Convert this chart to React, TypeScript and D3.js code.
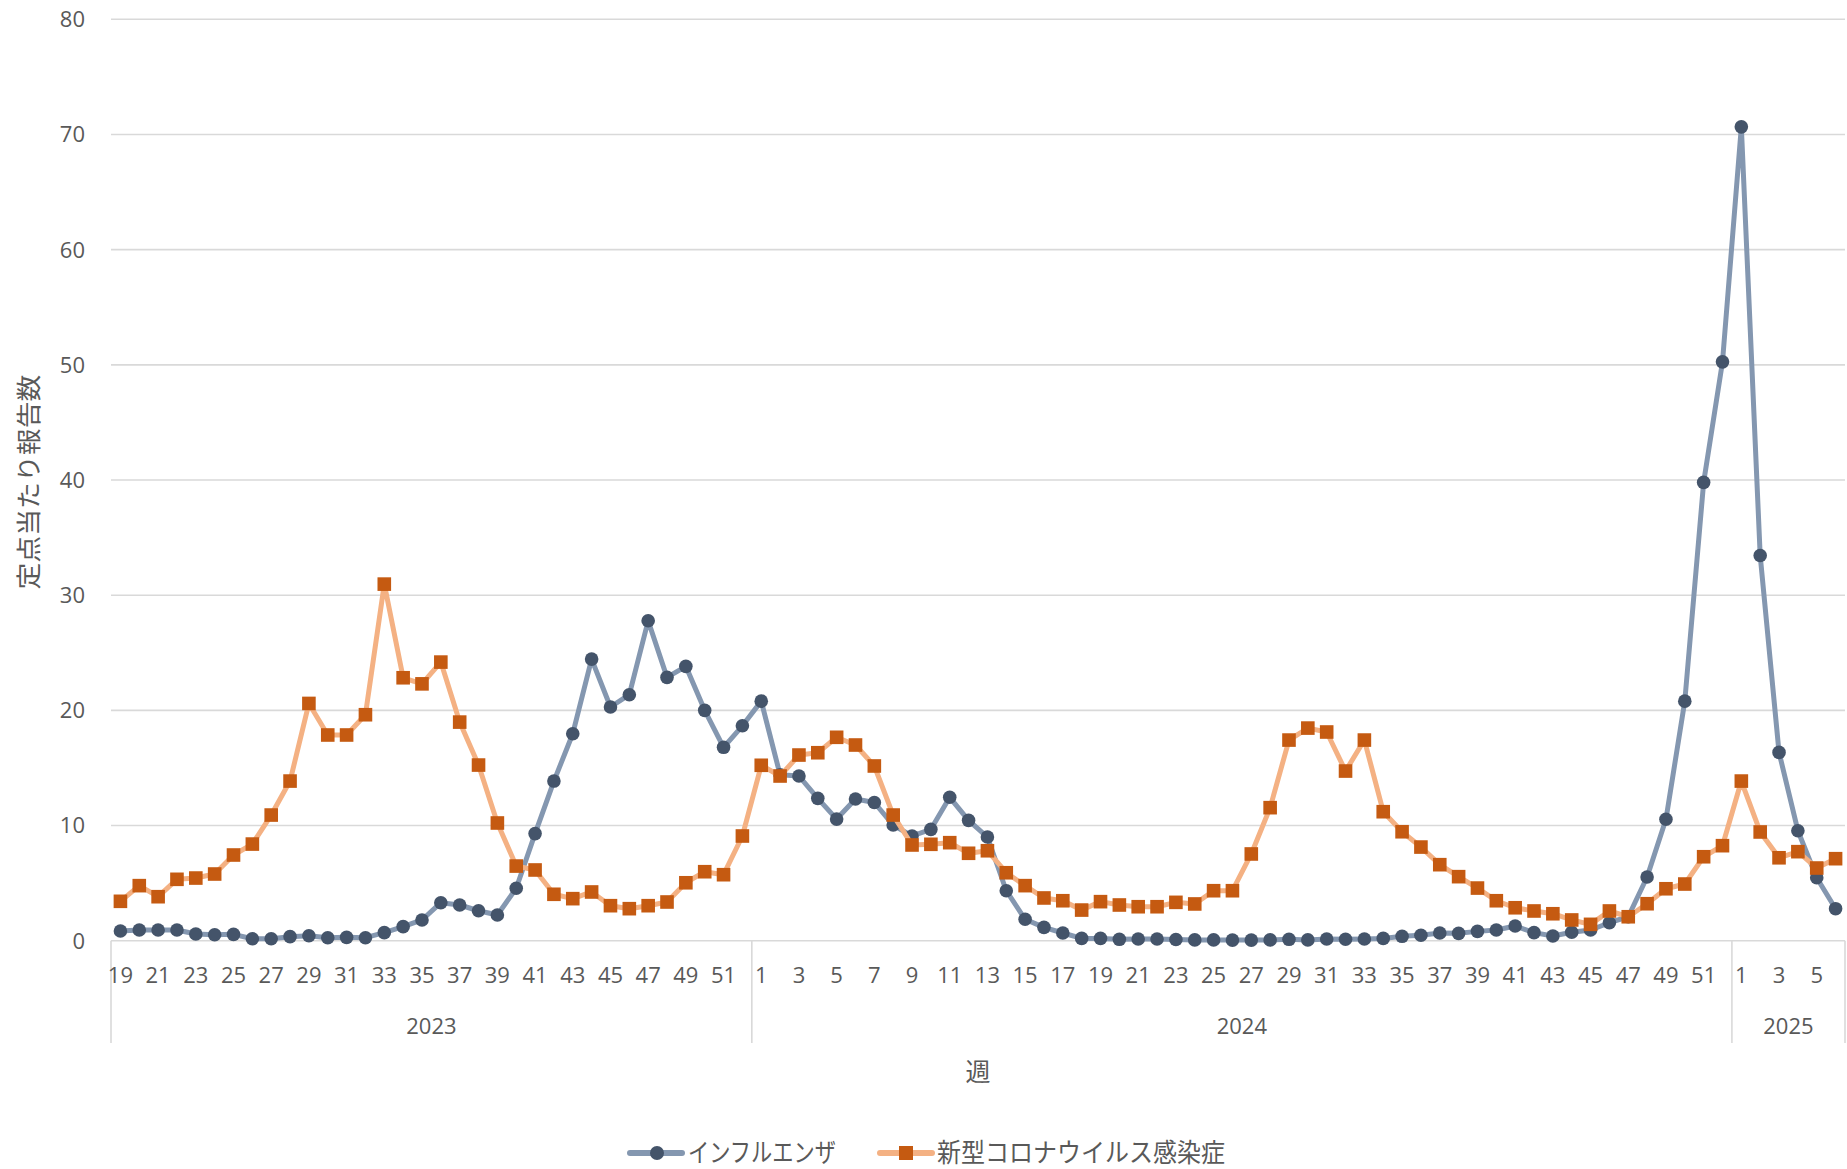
import React from 'react';
import * as d3 from 'd3';

const years = ['2023', '2024', '2025'];
const weeks2023 = d3.range(19, 53);
const weeks2024 = d3.range(1, 53);
const weeks2025 = d3.range(1, 7);

const flu2023 = [0.84, 0.93, 0.93, 0.93, 0.58, 0.52, 0.55, 0.17, 0.17, 0.35, 0.43, 0.26, 0.29, 0.26, 0.7, 1.22, 1.8, 3.3, 3.1, 2.6, 2.23, 4.55, 9.3, 13.86, 17.97, 24.45, 20.29, 21.36, 27.78, 22.86, 23.82, 20.0, 16.79, 18.66];
const flu2024 = [20.8, 14.4, 14.3, 12.36, 10.56, 12.3, 12.0, 10.04, 9.09, 9.67, 12.45, 10.45, 9.0, 4.34, 1.86, 1.16, 0.67, 0.2, 0.2, 0.12, 0.15, 0.15, 0.1, 0.07, 0.07, 0.05, 0.05, 0.07, 0.12, 0.07, 0.15, 0.13, 0.15, 0.2, 0.38, 0.47, 0.67, 0.64, 0.81, 0.93, 1.28, 0.7, 0.41, 0.73, 0.93, 1.56, 2.08, 5.53, 10.54, 20.8, 39.79, 50.26];
const flu2025 = [70.66, 33.45, 16.35, 9.55, 5.47, 2.78];

const covid2023 = [3.42, 4.78, 3.82, 5.33, 5.44, 5.79, 7.44, 8.39, 10.91, 13.86, 20.6, 17.86, 17.86, 19.62, 30.96, 22.83, 22.3, 24.19, 18.98, 15.25, 10.22, 6.48, 6.14, 4.03, 3.65, 4.23, 3.04, 2.78, 3.04, 3.36, 5.03, 5.99, 5.73, 9.09];
const covid2024 = [15.23, 14.3, 16.12, 16.32, 17.66, 16.99, 15.17, 10.91, 8.31, 8.37, 8.51, 7.59, 7.81, 5.9, 4.78, 3.71, 3.47, 2.66, 3.39, 3.1, 2.95, 2.95, 3.33, 3.19, 4.34, 4.34, 7.53, 11.55, 17.42, 18.46, 18.12, 14.73, 17.42, 11.2, 9.46, 8.13, 6.6, 5.56, 4.57, 3.47, 2.86, 2.58, 2.34, 1.8, 1.42, 2.58, 2.08, 3.21, 4.51, 4.92, 7.29, 8.25];
const covid2025 = [13.86, 9.44, 7.2, 7.73, 6.31, 7.12];

const yTicks = [0, 10, 20, 30, 40, 50, 60, 70, 80];
const seriesNames = ['インフルエンザ', '新型コロナウイルス感染症'];

const W = 1847;
const H = 1169;
const left = 111;
const right = 1845;
const top = 19.3;
const bottom = 940.7;

const textColor = '#595959';
const gridColor = '#D9D9D9';
const numFont = '"Segoe UI", "Open Sans", "Noto Sans", sans-serif';
const jpFont = '"Noto Sans CJK JP", sans-serif';

const App = () => {
    const weekGroups = [weeks2023, weeks2024, weeks2025];
    const cats = [];
    weekGroups.forEach((ws, gi) => ws.forEach(w => cats.push({ key: `${years[gi]}-${w}`, year: years[gi], week: w })));

    const flu = [...flu2023, ...flu2024, ...flu2025];
    const covid = [...covid2023, ...covid2024, ...covid2025];

    const x = d3.scaleBand().domain(cats.map(c => c.key)).range([left, right]).paddingInner(0).paddingOuter(0);
    const y = d3.scaleLinear().domain([0, 80]).range([bottom, top]);
    const cx = i => x(cats[i].key) + x.bandwidth() / 2;

    const line = d3.line().x((d, i) => cx(i)).y(d => y(d));

    // year boundaries on the category axis
    const bounds = [];
    let start = 0;
    weekGroups.forEach((ws, gi) => {
        const s = x(cats[start].key);
        const e = x(cats[start + ws.length - 1].key) + x.bandwidth();
        bounds.push({ year: years[gi], s, e });
        start += ws.length;
    });

    const axisBottom = 1043;
    const ly = 1153;

    return (
        <svg width={W} height={H} style={{ position: 'fixed', left: 0, top: 0, background: '#fff' }}>
            <rect width={W} height={H} fill="#fff" />
            {/* grid */}
            {yTicks.map(t => (
                <g key={t}>
                    <line x1={left} x2={right} y1={y(t)} y2={y(t)} stroke={gridColor} strokeWidth={1.6} />
                    <text x={85} y={y(t)} dy="0.36em" textAnchor="end" fill={textColor}
                          fontFamily={numFont} fontSize={22}>{t}</text>
                </g>
            ))}
            {/* category axis separators */}
            {[bounds[0].s, ...bounds.map(b => b.e)].map((bx, i) => (
                <line key={i} x1={bx} x2={bx} y1={bottom} y2={axisBottom} stroke={gridColor} strokeWidth={1.6} />
            ))}
            {cats.map((c, i) => (c.week % 2 === 1 ? (
                <text key={c.key} x={cx(i)} y={983} textAnchor="middle" fill={textColor}
                      fontFamily={numFont} fontSize={22}>{c.week}</text>
            ) : null))}
            {bounds.map(b => (
                <text key={b.year} x={(b.s + b.e) / 2} y={1034} textAnchor="middle" fill={textColor}
                      fontFamily={numFont} fontSize={22}>{b.year}</text>
            ))}
            {/* axis titles */}
            <text x={978} y={1072} dy="0.35em" textAnchor="middle" fill={textColor}
                  fontFamily={jpFont} fontSize={25}>週</text>
            <text transform="translate(29 482) rotate(-90)" textAnchor="middle" dy="0.35em" fill={textColor}
                  fontFamily={jpFont} fontSize={25} textLength={215} lengthAdjust="spacingAndGlyphs">定点当たり報告数</text>

            {/* influenza */}
            <path d={line(flu)} fill="none" stroke="#8497B0" strokeWidth={5} strokeLinejoin="round" />
            {flu.map((v, i) => (
                <circle key={i} cx={cx(i)} cy={y(v)} r={6.8} fill="#44546A" />
            ))}
            {/* covid */}
            <path d={line(covid)} fill="none" stroke="#F4B183" strokeWidth={5} strokeLinejoin="round" />
            {covid.map((v, i) => (
                <rect key={i} x={cx(i) - 6.8} y={y(v) - 6.8} width={13.6} height={13.6} fill="#C55A11" />
            ))}

            {/* legend */}
            <g>
                <line x1={630} x2={682} y1={ly} y2={ly} stroke="#8497B0" strokeWidth={6} strokeLinecap="round" />
                <circle cx={657} cy={ly} r={7} fill="#44546A" />
                <text x={688} y={ly} dy="0.36em" fill={textColor} fontFamily={jpFont} fontSize={26}
                      textLength={148} lengthAdjust="spacingAndGlyphs">{seriesNames[0]}</text>
                <line x1={880} x2={932} y1={ly} y2={ly} stroke="#F4B183" strokeWidth={6} strokeLinecap="round" />
                <rect x={906 - 7} y={ly - 7} width={14} height={14} fill="#C55A11" />
                <text x={937} y={ly} dy="0.36em" fill={textColor} fontFamily={jpFont} fontSize={26}
                      textLength={288} lengthAdjust="spacingAndGlyphs">{seriesNames[1]}</text>
            </g>
        </svg>
    );
};

export default App;
